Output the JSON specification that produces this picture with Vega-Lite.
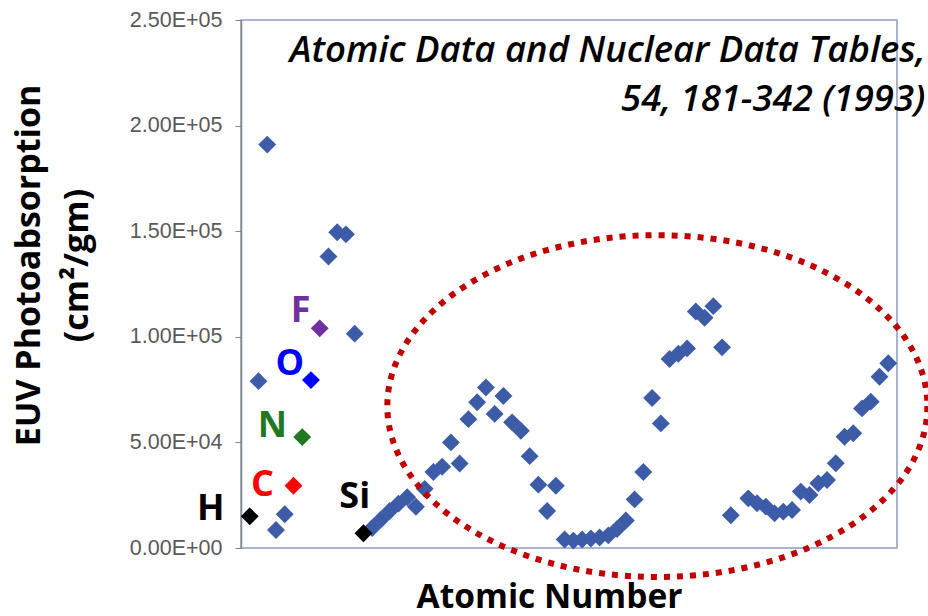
{
  "$schema": "https://vega.github.io/schema/vega-lite/v6.json",
  "width": 656,
  "height": 528,
  "autosize": {"type": "none"},
  "padding": {"left": 241, "top": 20, "right": 31, "bottom": 68},
  "background": "white",
  "config": {"view": {"stroke": "#8C9DC2", "strokeWidth": 1.5}, "font": "Open Sans"},
  "datasets": {
    "points": [
      {"Z": 1, "val": 15000, "el": "H"},
      {"Z": 2, "val": 79000, "el": "other"},
      {"Z": 3, "val": 191000, "el": "other"},
      {"Z": 4, "val": 8500, "el": "other"},
      {"Z": 5, "val": 16000, "el": "other"},
      {"Z": 6, "val": 29500, "el": "C"},
      {"Z": 7, "val": 52500, "el": "N"},
      {"Z": 8, "val": 79500, "el": "O"},
      {"Z": 9, "val": 104000, "el": "F"},
      {"Z": 10, "val": 138000, "el": "other"},
      {"Z": 11, "val": 149500, "el": "other"},
      {"Z": 12, "val": 148500, "el": "other"},
      {"Z": 13, "val": 101500, "el": "other"},
      {"Z": 14, "val": 7000, "el": "Si"},
      {"Z": 15, "val": 9500, "el": "other"},
      {"Z": 16, "val": 13500, "el": "other"},
      {"Z": 17, "val": 17500, "el": "other"},
      {"Z": 18, "val": 21000, "el": "other"},
      {"Z": 19, "val": 24000, "el": "other"},
      {"Z": 20, "val": 19500, "el": "other"},
      {"Z": 21, "val": 28000, "el": "other"},
      {"Z": 22, "val": 36000, "el": "other"},
      {"Z": 23, "val": 38500, "el": "other"},
      {"Z": 24, "val": 50000, "el": "other"},
      {"Z": 25, "val": 40000, "el": "other"},
      {"Z": 26, "val": 61000, "el": "other"},
      {"Z": 27, "val": 69000, "el": "other"},
      {"Z": 28, "val": 76000, "el": "other"},
      {"Z": 29, "val": 63500, "el": "other"},
      {"Z": 30, "val": 72000, "el": "other"},
      {"Z": 31, "val": 59500, "el": "other"},
      {"Z": 32, "val": 55500, "el": "other"},
      {"Z": 33, "val": 43500, "el": "other"},
      {"Z": 34, "val": 30000, "el": "other"},
      {"Z": 35, "val": 17500, "el": "other"},
      {"Z": 36, "val": 29500, "el": "other"},
      {"Z": 37, "val": 4000, "el": "other"},
      {"Z": 38, "val": 3500, "el": "other"},
      {"Z": 39, "val": 4000, "el": "other"},
      {"Z": 40, "val": 4500, "el": "other"},
      {"Z": 41, "val": 5000, "el": "other"},
      {"Z": 42, "val": 6000, "el": "other"},
      {"Z": 43, "val": 9000, "el": "other"},
      {"Z": 44, "val": 13000, "el": "other"},
      {"Z": 45, "val": 23000, "el": "other"},
      {"Z": 46, "val": 36000, "el": "other"},
      {"Z": 47, "val": 71000, "el": "other"},
      {"Z": 48, "val": 59000, "el": "other"},
      {"Z": 49, "val": 89500, "el": "other"},
      {"Z": 50, "val": 92000, "el": "other"},
      {"Z": 51, "val": 94500, "el": "other"},
      {"Z": 52, "val": 112000, "el": "other"},
      {"Z": 53, "val": 109000, "el": "other"},
      {"Z": 54, "val": 114500, "el": "other"},
      {"Z": 55, "val": 95000, "el": "other"},
      {"Z": 56, "val": 15500, "el": "other"},
      {"Z": 58, "val": 23500, "el": "other"},
      {"Z": 59, "val": 21200, "el": "other"},
      {"Z": 60, "val": 19600, "el": "other"},
      {"Z": 61, "val": 16400, "el": "other"},
      {"Z": 62, "val": 17200, "el": "other"},
      {"Z": 63, "val": 18000, "el": "other"},
      {"Z": 64, "val": 26700, "el": "other"},
      {"Z": 65, "val": 25100, "el": "other"},
      {"Z": 66, "val": 30600, "el": "other"},
      {"Z": 67, "val": 32200, "el": "other"},
      {"Z": 68, "val": 40100, "el": "other"},
      {"Z": 69, "val": 52700, "el": "other"},
      {"Z": 70, "val": 54300, "el": "other"},
      {"Z": 71, "val": 66100, "el": "other"},
      {"Z": 72, "val": 69300, "el": "other"},
      {"Z": 73, "val": 81100, "el": "other"},
      {"Z": 74, "val": 87500, "el": "other"}
    ],
    "labels": [
      {"el": "H", "Z": -3.46, "val": 13300},
      {"el": "C", "Z": 2.45, "val": 24600},
      {"el": "N", "Z": 3.59, "val": 52700},
      {"el": "O", "Z": 5.59, "val": 81900},
      {"el": "F", "Z": 6.82, "val": 107100},
      {"el": "Si", "Z": 13.0, "val": 18800}
    ],
    "citation": [
      {"text": "Atomic Data and Nuclear Data Tables,", "Z": 78.25, "val": 230100},
      {"text": "54, 181-342 (1993)", "Z": 78.25, "val": 206900}
    ],
    "ellipse": [
      {"Z": 47.6, "val": 67200}
    ]
  },
  "encoding": {
    "x": {
      "field": "Z",
      "type": "quantitative",
      "scale": {"domain": [0, 75], "nice": false, "zero": false},
      "axis": {
        "title": "Atomic Number",
        "labels": false,
        "ticks": false,
        "domain": false,
        "grid": false,
        "titleFont": "Open Sans",
        "titleFontSize": 33.5,
        "titleFontWeight": "bold",
        "titleColor": "#000000",
        "titlePadding": 33,
        "titleX": 308
      }
    },
    "y": {
      "field": "val",
      "type": "quantitative",
      "scale": {"domain": [0, 250000], "nice": false},
      "axis": {
        "values": [0, 50000, 100000, 150000, 200000, 250000],
        "labelExpr": "replace(upper(format(datum.value, '.2e')), 'E+', 'E+0')",
        "labelFont": "Liberation Sans",
        "labelFontSize": 21.5,
        "labelColor": "#595959",
        "tickColor": "#868686",
        "domainColor": "#868686",
        "domainWidth": 1.5,
        "tickSize": 6,
        "labelPadding": 13,
        "grid": false,
        "title": ["EUV Photoabsorption", "(cm²/gm)"],
        "titleFont": "Open Sans",
        "titleFontSize": 34,
        "titleFontWeight": "bold",
        "titleColor": "#000000",
        "titleLineHeight": 48,
        "titleX": -195,
        "titleY": 245,
        "titleBaseline": "bottom",
        "titleAlign": "center",
        "titleAngle": -90
      }
    }
  },
  "layer": [
    {
      "data": {"name": "points"},
      "transform": [{"filter": "datum.el == 'other'"}],
      "mark": {"type": "point", "shape": "diamond", "filled": true, "size": 320, "opacity": 1, "color": "#3D5CA8"}
    },
    {
      "data": {"name": "points"},
      "transform": [{"filter": "datum.el != 'other'"}],
      "mark": {"type": "point", "shape": "diamond", "filled": true, "size": 320, "opacity": 1},
      "encoding": {
        "color": {
          "field": "el",
          "type": "nominal",
          "scale": {"domain": ["H", "C", "N", "O", "F", "Si"], "range": ["#000000", "#FF0000", "#217821", "#0000FF", "#7030A0", "#000000"]},
          "legend": null
        }
      }
    },
    {
      "data": {"name": "labels"},
      "mark": {"type": "text", "font": "Open Sans", "fontSize": 36, "fontWeight": "bold", "align": "center", "baseline": "alphabetic"},
      "encoding": {
        "text": {"field": "el"},
        "color": {
          "field": "el",
          "type": "nominal",
          "scale": {"domain": ["H", "C", "N", "O", "F", "Si"], "range": ["#000000", "#FF0000", "#217821", "#0000FF", "#7030A0", "#000000"]},
          "legend": null
        }
      }
    },
    {
      "data": {"name": "ellipse"},
      "mark": {
        "type": "point",
        "shape": "M1,0C1,0.3496,0.5523,0.633,0,0.633C-0.5523,0.633,-1,0.3496,-1,0C-1,-0.3496,-0.5523,-0.633,0,-0.633C0.5523,-0.633,1,-0.3496,1,0Z",
        "filled": false,
        "size": 291600,
        "color": "#C00000",
        "strokeWidth": 6,
        "strokeDash": [6, 7],
        "strokeCap": "butt",
        "opacity": 1
      }
    },
    {
      "data": {"name": "citation"},
      "mark": {"type": "text", "font": "Open Sans", "fontSize": 36.5, "fontStyle": "italic", "fontWeight": 600, "align": "right", "baseline": "alphabetic", "color": "#000000"},
      "encoding": {"text": {"field": "text"}}
    }
  ]
}
